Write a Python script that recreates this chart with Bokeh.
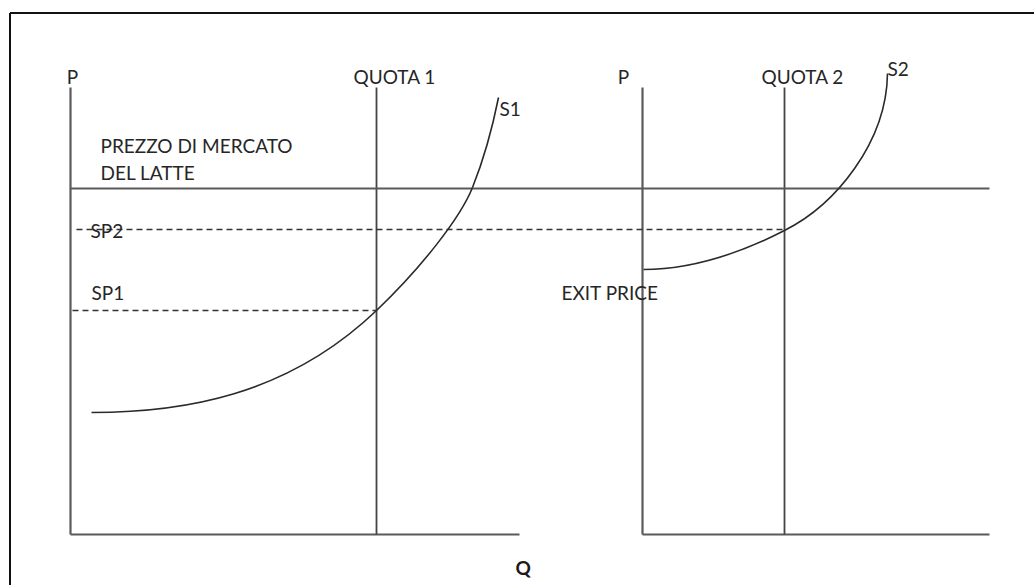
from bokeh.plotting import figure
from bokeh.models import Range1d
from bokeh.embed import file_html
from bokeh.resources import INLINE
from bokeh.core.properties import value

# ---- data (schematic units: Q to the right, P upward; origin of panel 1 = 0,0) ----
axis_top = 447
panel1_origin = 0
panel1_end = 449
panel2_origin = 572
panel2_end = 919
quota1 = 306
quota2 = 714
market_price = 346
sp2 = 305
sp1 = 224

# supply curves as cubic Bezier pieces (start, end, two control points)
s1_x0 = [21, 306, 402]
s1_y0 = [122, 224, 347]
s1_x1 = [306, 402, 428]
s1_y1 = [224, 347, 437]
s1_cx0 = [111, 351, 411.6]
s1_cy0 = [122, 267, 371]
s1_cx1 = [216, 390, 422]
s1_cy1 = [138, 317, 407]

s2_x0 = [573, 714]
s2_y0 = [265, 304]
s2_x1 = [714, 817]
s2_y1 = [304, 461]
s2_cx0 = [623, 765]
s2_cy0 = [265, 329.5]
s2_cx1 = [669, 816]
s2_cy1 = [281, 392]

labels = ["P", "QUOTA 1", "S1", "PREZZO DI MERCATO", "DEL LATTE", "SP2", "SP1",
          "P", "QUOTA 2", "S2", "EXIT PRICE"]
label_q = [2, 283, 429, 30, 30, 20, 21, 553, 691, 817, 491]
label_p = [458, 458, 426, 389, 362, 304, 242, 458, 458, 466, 242]
label_align = ["center", "left", "left", "left", "left", "left", "left",
               "center", "left", "left", "left"]

frame_left = -60.5
frame_top = 521.5

p = figure(width=1034, height=585, x_range=Range1d(-70, 964), y_range=Range1d(-51, 534),
           output_backend="svg", toolbar_location=None, min_border=0,
           x_axis_type=None, y_axis_type=None)
p.grid.visible = False
p.outline_line_color = None
p.background_fill_color = "white"

# outer frame (cropped on the right and bottom)
p.segment(x0=[frame_left, frame_left], y0=[frame_top, frame_top],
          x1=[frame_left, 1000], y1=[-100, frame_top],
          line_color="#111111", line_width=2)

axis_col = "#5a5a5a"
# panel axes
p.segment(x0=[panel1_origin, panel1_origin, panel2_origin, panel2_origin],
          y0=[0, 0, 0, 0],
          x1=[panel1_origin, panel1_end, panel2_origin, panel2_end],
          y1=[axis_top, 0, axis_top, 0],
          line_color=axis_col, line_width=2.2)
# quota lines
p.segment(x0=[quota1, quota2], y0=[0, 0], x1=[quota1, quota2], y1=[axis_top, axis_top],
          line_color="#444444", line_width=1.8)
# market price
p.segment(x0=[panel1_origin], y0=[market_price], x1=[panel2_end], y1=[market_price],
          line_color=axis_col, line_width=2.2)
# support prices (dashed)
p.segment(x0=[6, 2], y0=[sp2, sp1], x1=[quota2, quota1], y1=[sp2, sp1],
          line_color="#333333", line_width=1.5, line_dash="6 4")

# supply curves
p.bezier(x0=s1_x0, y0=s1_y0, x1=s1_x1, y1=s1_y1, cx0=s1_cx0, cy0=s1_cy0,
         cx1=s1_cx1, cy1=s1_cy1, line_color="#2a2a2a", line_width=1.6)
p.bezier(x0=s2_x0, y0=s2_y0, x1=s2_x1, y1=s2_y1, cx0=s2_cx0, cy0=s2_cy0,
         cx1=s2_cx1, cy1=s2_cy1, line_color="#2a2a2a", line_width=1.6)

for txt, x, y, al in zip(labels, label_q, label_p, label_align):
    p.text(x=[x], y=[y], text=[txt], text_align=al, text_baseline="alphabetic",
           text_font=value("Lato"), text_font_size="19px", text_color="#262626")

p.text(x=[445], y=[-33], text=["Q"], text_align="left", text_baseline="alphabetic",
       text_font=value("Lato"), text_font_size="19px", text_font_style="bold",
       text_color="#1a1a1a")

open("out.html", "w").write(file_html(p, INLINE))
